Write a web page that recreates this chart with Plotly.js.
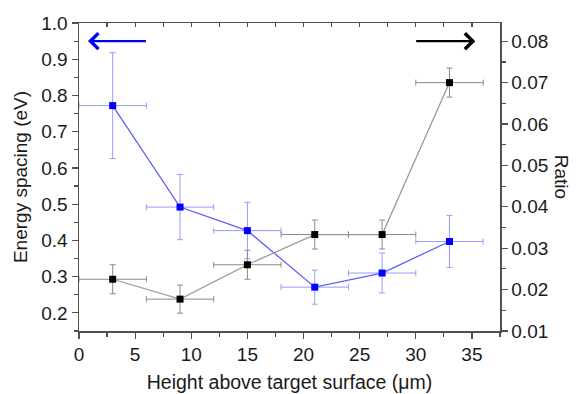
<!DOCTYPE html>
<html>
<head>
<meta charset="utf-8">
<script src="https://cdn.plot.ly/plotly-3.0.1.min.js"></script>
<style>html,body{margin:0;padding:0;background:#fff;}#chart{width:577px;height:394px;}</style>
</head>
<body>
<div id="chart"></div>
<script>
const heights = [3, 9, 15, 21, 27, 33];
const heightErr = [3, 3, 3, 3, 3, 3];
const energy = [0.772, 0.492, 0.427, 0.271, 0.310, 0.397];
const energyErr = [0.146, 0.090, 0.078, 0.047, 0.055, 0.072];
const ratio = [0.0225, 0.0177, 0.0260, 0.0333, 0.0333, 0.0700];
const ratioErr = [0.0035, 0.0034, 0.0035, 0.0035, 0.0035, 0.0035];

const xTitle = 'Height above target surface (\u03bcm)';
const yTitle = 'Energy spacing (eV)';
const y2Title = 'Ratio';

const FONT = 'Liberation Sans, Arial, sans-serif';
const AX = '#505050';
const TXT = '#1a1a1a';

const traces = [
  {
    x: heights, y: energy, type: 'scatter', mode: 'lines+markers', xaxis: 'x', yaxis: 'y',
    line: {color: 'rgba(40,40,255,0.75)', width: 1.3},
    marker: {symbol: 'square', size: 7, color: '#0000ff'},
    error_y: {type: 'data', array: energyErr, color: '#9a9aff', thickness: 1, width: 3},
    error_x: {type: 'data', array: heightErr, color: '#9a9aff', thickness: 1, width: 3}
  },
  {
    x: heights, y: ratio, type: 'scatter', mode: 'lines+markers', xaxis: 'x', yaxis: 'y2',
    line: {color: '#9a9a9a', width: 1.3},
    marker: {symbol: 'square', size: 7, color: '#000'},
    error_y: {type: 'data', array: ratioErr, color: '#8a8a8a', thickness: 1, width: 3},
    error_x: {type: 'data', array: heightErr, color: '#8a8a8a', thickness: 1, width: 3}
  },
  {x: [], y: [], type: 'scatter', mode: 'markers', xaxis: 'x2', yaxis: 'y', showlegend: false, hoverinfo: 'skip'}
];

const layout = {
  width: 577, height: 394,
  margin: {l: 79, r: 77, t: 23, b: 63},
  paper_bgcolor: '#fff', plot_bgcolor: '#fff',
  showlegend: false,
  font: {family: FONT, size: 19, color: TXT},
  xaxis: {
    range: [0, 37.5], tickmode: 'linear', tick0: 0, dtick: 5,
    ticks: 'outside', ticklen: 6, tickwidth: 1.2, tickcolor: AX,
    minor: {dtick: 2.5, ticks: 'outside', ticklen: 4, tickwidth: 1.2, tickcolor: AX},
    showline: true, linecolor: AX, linewidth: 1.5, mirror: true,
    showgrid: false, zeroline: false,
    tickfont: {size: 19, color: TXT},
    title: {text: xTitle, font: {size: 19.5, color: TXT}, standoff: 11}
  },
  xaxis2: {
    overlaying: 'x', side: 'top', matches: 'x', range: [0, 37.5],
    tickmode: 'linear', tick0: 0, dtick: 2.5,
    ticks: 'inside', ticklen: 4, tickwidth: 1.2, tickcolor: AX,
    showticklabels: false, showline: false, showgrid: false, zeroline: false
  },
  yaxis: {
    range: [0.15, 1.0], tickmode: 'linear', tick0: 0.2, dtick: 0.1, tickformat: '.1f',
    ticks: 'outside', ticklen: 6, tickwidth: 1.2, tickcolor: AX,
    minor: {dtick: 0.05, tick0: 0, ticks: 'outside', ticklen: 4, tickwidth: 1.2, tickcolor: AX},
    showline: true, linecolor: AX, linewidth: 1.5,
    showgrid: false, zeroline: false,
    tickfont: {size: 19, color: TXT},
    title: {text: yTitle, font: {size: 19, color: TXT}, standoff: 8}
  },
  yaxis2: {
    overlaying: 'y', side: 'right',
    range: [0.01, 0.0844], tickmode: 'linear', tick0: 0.01, dtick: 0.01, tickformat: '.2f',
    ticks: 'outside', ticklen: 6, tickwidth: 1.2, tickcolor: AX,
    minor: {dtick: 0.005, tick0: 0, ticks: 'outside', ticklen: 4, tickwidth: 1.2, tickcolor: AX},
    showline: true, linecolor: AX, linewidth: 1.5,
    showgrid: false, zeroline: false,
    tickfont: {size: 19, color: TXT}
  },
  annotations: [
    {xref: 'paper', yref: 'paper', x: 1.148, y: 0.5, text: y2Title, textangle: 90,
     showarrow: false, font: {size: 19, color: TXT}, xanchor: 'center', yanchor: 'middle'},
    {xref: 'x', yref: 'y', x: 0.8, y: 0.95, ax: 6.1, ay: 0.95, axref: 'x', ayref: 'y', text: '',
     showarrow: true, arrowhead: 4, arrowsize: 1.4, arrowwidth: 2.2, arrowcolor: '#0000ff'},
    {xref: 'x', yref: 'y2', x: 35.3, y: 0.08, ax: 29.9, ay: 0.08, axref: 'x', ayref: 'y2', text: '',
     showarrow: true, arrowhead: 4, arrowsize: 1.4, arrowwidth: 2.2, arrowcolor: '#000'}
  ]
};

Plotly.newPlot('chart', traces, layout, {displayModeBar: false, staticPlot: true});
</script>
</body>
</html>
